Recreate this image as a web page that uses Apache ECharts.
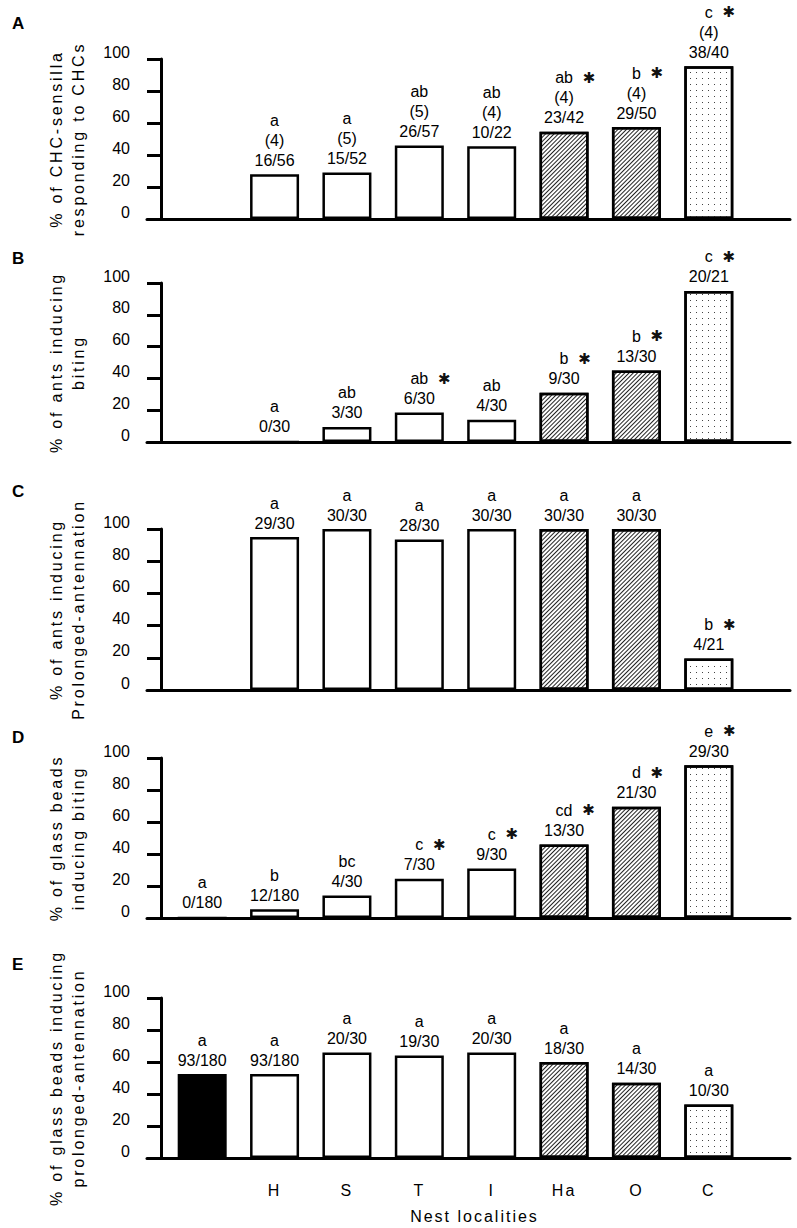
<!DOCTYPE html>
<html><head><meta charset="utf-8">
<script src="https://cdn.jsdelivr.net/npm/echarts@6/dist/echarts.min.js"></script>
<style>
html,body{margin:0;padding:0;background:#fff;}
#c{width:797px;height:1228px;}
#c text[style*="lspA"]{letter-spacing:2.8px;}
#c text[style*="lspB"]{letter-spacing:2px;}
</style></head><body><div id="c"></div>
<script>
// ---------- data ----------
const categories = ['', 'H', 'S', 'T', 'I', 'Ha', 'O', 'C'];
const xAxisTitle = 'Nest localities';
const yMin = 0, yMax = 100, yStep = 20;

// Panel A: % of CHC-sensilla responding to CHCs
const aTitle = ['% of CHC-sensilla', 'responding to CHCs'];
const aValues = [null, 28, 29, 46, 45.5, 54.5, 57.5, 95.5];
const aLetters = ['', 'a', 'a', 'ab', 'ab', 'ab', 'b', 'c'];
const aCounts = ['', '(4)', '(5)', '(5)', '(4)', '(4)', '(4)', '(4)'];
const aRatios = ['', '16/56', '15/52', '26/57', '10/22', '23/42', '29/50', '38/40'];
const aStars = [false, false, false, false, false, true, true, true];

// Panel B: % of ants inducing biting
const bTitle = ['% of ants inducing', 'biting'];
const bValues = [null, 0, 9.5, 18.5, 14, 31, 45, 95];
const bLetters = ['', 'a', 'ab', 'ab', 'ab', 'b', 'b', 'c'];
const bRatios = ['', '0/30', '3/30', '6/30', '4/30', '9/30', '13/30', '20/21'];
const bStars = [false, false, false, true, false, true, true, true];

// Panel C: % of ants inducing prolonged-antennation
const cTitle = ['% of ants inducing', 'Prolonged-antennation'];
const cValues = [null, 95, 100, 93.5, 100, 100, 100, 19.5];
const cLetters = ['', 'a', 'a', 'a', 'a', 'a', 'a', 'b'];
const cRatios = ['', '29/30', '30/30', '28/30', '30/30', '30/30', '30/30', '4/21'];
const cStars = [false, false, false, false, false, false, false, true];

// Panel D: % of glass beads inducing biting
const dTitle = ['% of glass beads', 'inducing biting'];
const dValues = [0, 5.5, 14, 24.5, 31, 46, 69.5, 95.5];
const dLetters = ['a', 'b', 'bc', 'c', 'c', 'cd', 'd', 'e'];
const dRatios = ['0/180', '12/180', '4/30', '7/30', '9/30', '13/30', '21/30', '29/30'];
const dStars = [false, false, false, true, true, true, true, true];

// Panel E: % of glass beads inducing prolonged-antennation
const eTitle = ['% of glass beads inducing', 'prolonged-antennation'];
const eValues = [52.5, 52.5, 66, 64, 66, 60, 47, 33.5];
const eLetters = ['a', 'a', 'a', 'a', 'a', 'a', 'a', 'a'];
const eRatios = ['93/180', '93/180', '20/30', '19/30', '20/30', '18/30', '14/30', '10/30'];
const eStars = [false, false, false, false, false, false, false, false];

// ---------- layout / style ----------
const FONT = "'Liberation Sans', Arial, sans-serif";
const fillKind = ['black', 'white', 'white', 'white', 'white', 'hatch', 'hatch', 'dots'];
const panels = [
  {key: 'A', title: aTitle, values: aValues, letters: aLetters, counts: aCounts, ratios: aRatios, stars: aStars, top: 59, height: 160, letterY: 20},
  {key: 'B', title: bTitle, values: bValues, letters: bLetters, ratios: bRatios, stars: bStars, top: 283, height: 159, letterY: 255},
  {key: 'C', title: cTitle, values: cValues, letters: cLetters, ratios: cRatios, stars: cStars, top: 529, height: 161, letterY: 488},
  {key: 'D', title: dTitle, values: dValues, letters: dLetters, ratios: dRatios, stars: dStars, top: 758, height: 160, letterY: 734},
  {key: 'E', title: eTitle, values: eValues, letters: eLetters, ratios: eRatios, stars: eStars, top: 998, height: 160, letterY: 961}
];

const hatchDecal = {symbol: 'rect', symbolSize: 1, color: '#222', dashArrayX: [1, 0], dashArrayY: [1, 2], rotation: -Math.PI / 4};
const dotDecal = {symbol: 'rect', symbolSize: 1, color: '#444', dashArrayX: [1, 5], dashArrayY: [1, 5], rotation: 0};

function itemStyleFor(i) {
  const base = {borderColor: '#000', borderWidth: 2.5};
  const k = fillKind[i];
  if (k === 'black') return Object.assign(base, {color: '#000'});
  if (k === 'hatch') return Object.assign(base, {color: '#fff', decal: hatchDecal});
  if (k === 'dots') return Object.assign(base, {color: '#fff', decal: dotDecal});
  return Object.assign(base, {color: '#fff'});
}

const grids = [], xAxes = [], yAxes = [], series = [], titles = [];
panels.forEach((P, k) => {
  const isLast = k === panels.length - 1;
  grids.push({left: 166, right: 52, top: P.top, height: P.height, containLabel: false, outerBoundsMode: 'none'});
  titles.push({text: P.key, left: 7, top: P.letterY - 10, textStyle: {fontSize: 17, fontWeight: 'bold', color: '#000', fontFamily: FONT}});
  xAxes.push({
    gridIndex: k, type: 'category', data: categories,
    axisLine: {show: false}, axisTick: {show: false}, splitLine: {show: false},
    axisLabel: {show: isLast, interval: 0, margin: 24, fontSize: 16, color: '#000', fontFamily: "'Liberation Sans', lspB"}
  });
  yAxes.push({
    gridIndex: k, type: 'value', min: yMin, max: yMax, interval: yStep, offset: 5,
    axisLine: {show: true, lineStyle: {color: '#000', width: 3}},
    axisTick: {show: true, inside: false, length: 14, lineStyle: {color: '#000', width: 3}},
    axisLabel: {show: true, margin: 31, fontSize: 16, color: '#000', fontFamily: FONT, verticalAlign: 'bottom', lineHeight: 14},
    splitLine: {show: false},
    name: P.title.join('\n'), nameLocation: 'middle', nameRotate: 90, nameGap: 72,
    nameTextStyle: {fontSize: 16, lineHeight: 22, color: '#000', fontFamily: "'Liberation Sans', lspA"}
  });
  series.push({
    type: 'bar', xAxisIndex: k, yAxisIndex: k, barWidth: 49,
    data: P.values.map((v, i) => v == null ? '-' : {value: v, itemStyle: itemStyleFor(i)}),
    label: {
      show: true, position: 'top', distance: 4, color: '#000', fontSize: 16, lineHeight: 20, fontFamily: FONT,
      formatter: (p) => {
        const i = p.dataIndex;
        const lines = [P.stars[i] ? '{p|}' + P.letters[i] + '{g|}{s|✱}' : P.letters[i]];
        if (P.counts) lines.push(P.counts[i]);
        lines.push(P.ratios[i]);
        return lines.join('\n');
      },
      rich: {
        p: {width: 23, lineHeight: 20},
        g: {width: 9, lineHeight: 20},
        s: {width: 14, fontSize: 15, lineHeight: 20, color: '#111', fontFamily: "'DejaVu Sans'"}
      }
    },
    emphasis: {disabled: true}, silent: true, animation: false
  });
});
// long horizontal baselines (separate grids spanning the full baseline width)
panels.forEach((P, k) => {
  const isLast = k === panels.length - 1;
  grids.push({left: 147, right: 7, top: P.top, height: P.height, containLabel: false, outerBoundsMode: 'none'});
  xAxes.push({
    gridIndex: panels.length + k, type: 'value', min: 0, max: 1,
    axisLine: {show: true, lineStyle: {color: '#000', width: 3}},
    axisTick: {show: false}, axisLabel: {show: false}, splitLine: {show: false},
    name: isLast ? xAxisTitle : '', nameLocation: 'middle', nameGap: 50,
    nameTextStyle: {fontSize: 16, color: '#000', fontFamily: "'Liberation Sans', lspB", padding: [0, 0, 0, 12]}
  });
  yAxes.push({gridIndex: panels.length + k, type: 'value', show: false, min: 0, max: 1});
});

const chart = echarts.init(document.getElementById('c'), null, {renderer: 'svg', width: 797, height: 1228});
chart.setOption({
  backgroundColor: '#fff', animation: false,
  title: titles, grid: grids, xAxis: xAxes, yAxis: yAxes, series: series
});
</script></body></html>
